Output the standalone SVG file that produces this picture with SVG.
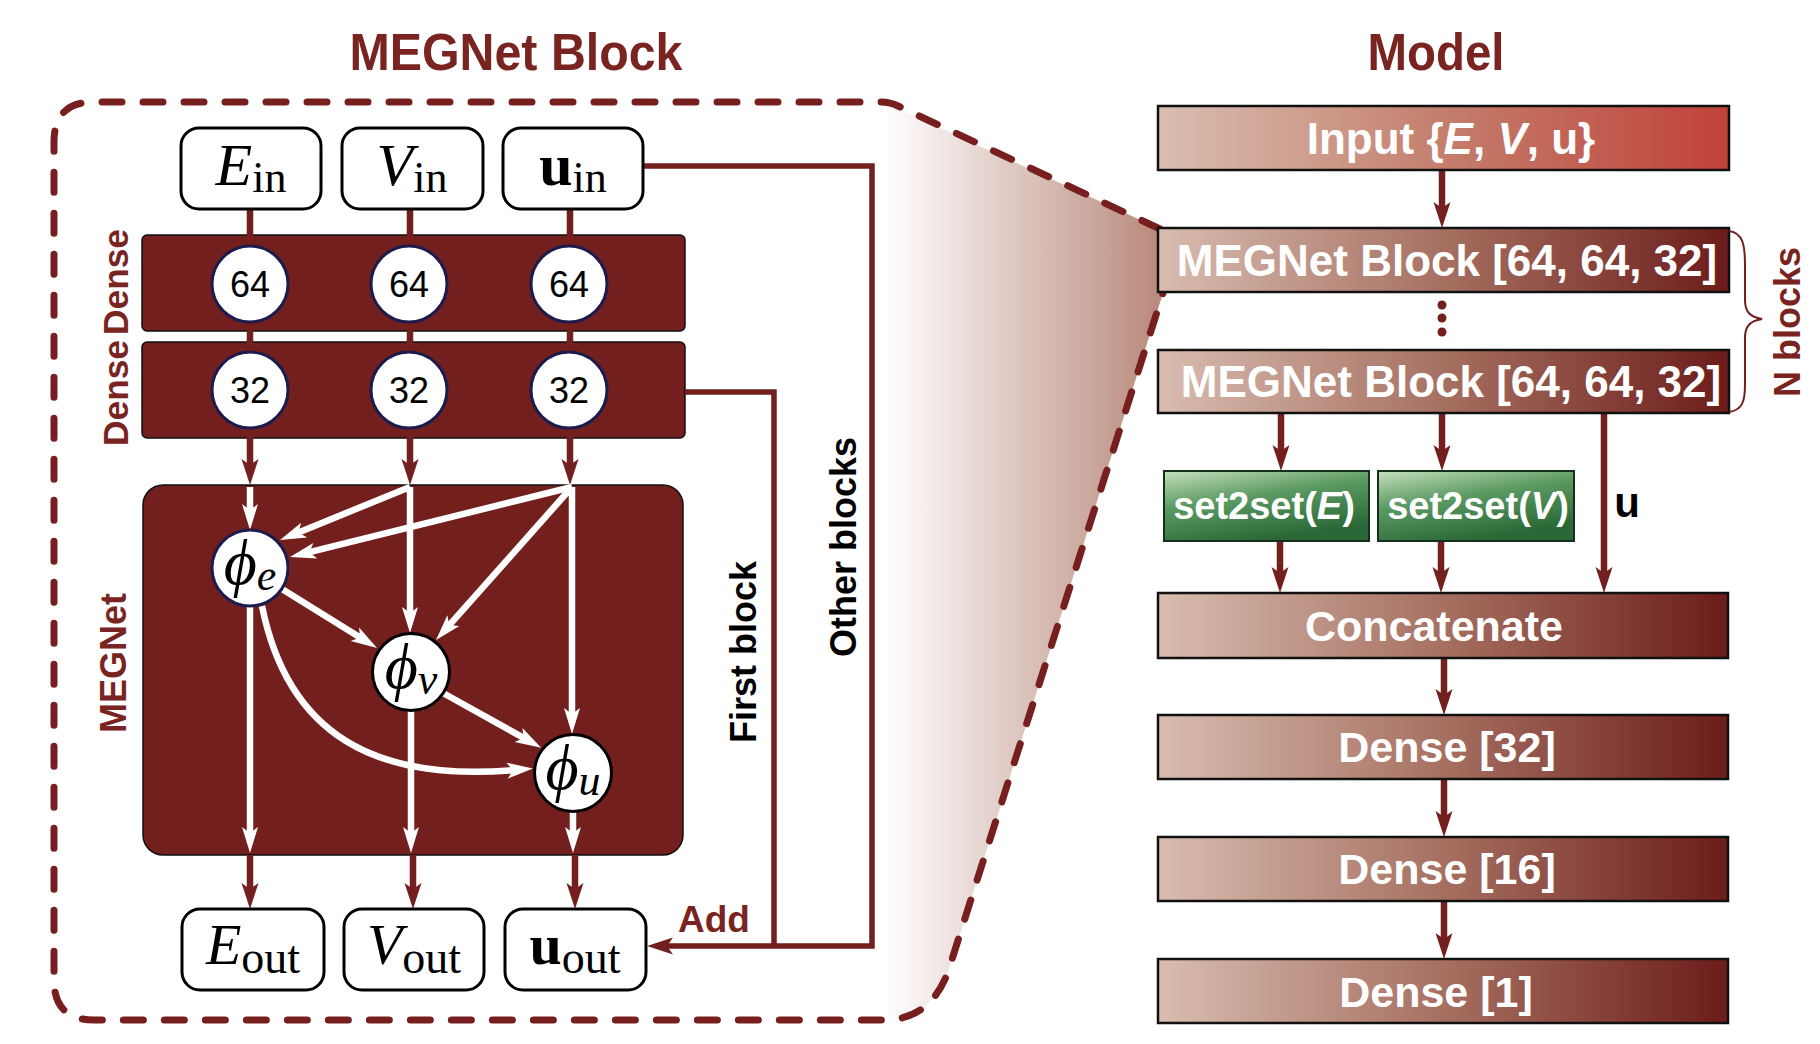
<svg xmlns="http://www.w3.org/2000/svg" width="1820" height="1044" viewBox="0 0 1820 1044">
<defs>
<style>
.title{font-family:"Liberation Sans",Arial,sans-serif;font-weight:bold;fill:#7a2421;font-size:52px;text-anchor:middle}
.side{font-family:"Liberation Sans",Arial,sans-serif;font-weight:bold;fill:#7a2421;font-size:35px;text-anchor:middle}
.blk{font-family:"Liberation Sans",Arial,sans-serif;font-weight:bold;fill:#000;font-size:36px;text-anchor:middle}
.num{font-family:"Liberation Sans",Arial,sans-serif;font-size:36px;fill:#000;text-anchor:middle}
.math{font-family:"Liberation Serif","DejaVu Serif",serif;fill:#000;text-anchor:middle}
.mt{font-family:"Liberation Sans",Arial,sans-serif;font-weight:bold;fill:#fff;text-anchor:middle}
.iobox{fill:#fff;stroke:#000;stroke-width:3}
.dark{fill:#721f1e;stroke:#111;stroke-width:1.5}
.cn{fill:#fff;stroke:#1c1b4e;stroke-width:3}
.cphi{fill:#fff;stroke:#000;stroke-width:3}
.mline{fill:none;stroke:#721f1e;stroke-width:6.5}
.rline{fill:none;stroke:#721f1e;stroke-width:5.5}
.wline{fill:none;stroke:#fff;stroke-width:6.5}
.mbox{stroke:#111;stroke-width:2.5}
.dash{fill:none;stroke:#761f1e;stroke-width:7;stroke-dasharray:20 21;stroke-linecap:round}
</style>
<marker id="am" markerUnits="userSpaceOnUse" markerWidth="28" markerHeight="20" viewBox="0 -10 28 20" refX="8" refY="0" orient="auto" overflow="visible">
<path d="M0,-8.5 L26,0 L0,8.5 L6,0 Z" fill="#721f1e"/>
</marker>
<marker id="aw" markerUnits="userSpaceOnUse" markerWidth="28" markerHeight="20" viewBox="0 -10 28 20" refX="8" refY="0" orient="auto" overflow="visible">
<path d="M0,-8 L26,0 L0,8 L6,0 Z" fill="#fff"/>
</marker>
<linearGradient id="gFunnel" gradientUnits="userSpaceOnUse" x1="885" y1="0" x2="1162" y2="0">
<stop offset="0" stop-color="#ffffff"/>
<stop offset="1" stop-color="#b8897a"/>
</linearGradient>
<linearGradient id="gBox" x1="0" y1="0" x2="1" y2="0">
<stop offset="0" stop-color="#d8bdb0"/>
<stop offset="0.5" stop-color="#a67061"/>
<stop offset="1" stop-color="#6c1c1a"/>
</linearGradient>
<linearGradient id="gIn" x1="0" y1="0" x2="1" y2="0">
<stop offset="0" stop-color="#d9bfb2"/>
<stop offset="0.5" stop-color="#c47e6c"/>
<stop offset="1" stop-color="#c0413a"/>
</linearGradient>
<linearGradient id="gGreen" x1="0" y1="0" x2="0.45" y2="1">
<stop offset="0" stop-color="#c6e0bd"/>
<stop offset="0.45" stop-color="#5d9b64"/>
<stop offset="1" stop-color="#2a6937"/>
</linearGradient>
</defs>

<rect width="1820" height="1044" fill="#fff"/>

<g id="titles">
<text class="title" x="516" y="70" textLength="333" lengthAdjust="spacingAndGlyphs">MEGNet Block</text>
<text class="title" x="1436" y="70" textLength="137" lengthAdjust="spacingAndGlyphs">Model</text>
</g>

<g id="zoom-frame">
<path d="M884,102 L1160,229 L1163,293 L948,972 Q930,1020 884,1020 Z" fill="url(#gFunnel)"/>
<path class="dash" d="M1160,229 L898,106 Q890,102 880,102 L94,102 Q54,102 54,142 L54,980 Q54,1020 94,1020 L884,1020 Q930,1020 948,972 L1163,293"/>
</g>

<g id="dense1">
<rect class="dark" x="142" y="235" width="543" height="96" rx="5"/>
<text class="side" transform="translate(128,282) rotate(-90)" textLength="106" lengthAdjust="spacingAndGlyphs">Dense</text>
</g>
<g id="dense2">
<rect class="dark" x="142" y="342" width="543" height="96" rx="5"/>
<text class="side" transform="translate(128,393) rotate(-90)" textLength="106" lengthAdjust="spacingAndGlyphs">Dense</text>
</g>
<g id="megnet">
<rect class="dark" x="143" y="485" width="540" height="370" rx="20"/>
<text class="side" style="font-size:36px" transform="translate(126,663) rotate(-90)">MEGNet</text>
</g>

<g id="connectors">
<path class="mline" d="M250,209 V467" marker-end="url(#am)"/>
<path class="mline" d="M410,209 V467" marker-end="url(#am)"/>
<path class="mline" d="M570,209 V467" marker-end="url(#am)"/>
<path class="wline" d="M250,487 V512" marker-end="url(#aw)"/>
<path class="wline" d="M410,487 L296.7,533.2" marker-end="url(#aw)"/>
<path class="wline" d="M572,487 L307.5,552.7" marker-end="url(#aw)"/>
<path class="wline" d="M410,487 V615" marker-end="url(#aw)"/>
<path class="wline" d="M572,487 L448,626.6" marker-end="url(#aw)"/>
<path class="wline" d="M572,487 V716" marker-end="url(#aw)"/>
<path class="wline" d="M282,589 L361.7,638.5" marker-end="url(#aw)"/>
<path class="wline" d="M443,693 L525.5,738.9" marker-end="url(#aw)"/>
<path class="wline" d="M262,606 C288,735 375,782 515,770" marker-end="url(#aw)"/>
<path class="wline" d="M250,606 V835" marker-end="url(#aw)"/>
<path class="wline" d="M411,711 V835" marker-end="url(#aw)"/>
<path class="wline" d="M573,812 V835" marker-end="url(#aw)"/>
<path class="mline" d="M250,855 V891" marker-end="url(#am)"/>
<path class="mline" d="M413,855 V891" marker-end="url(#am)"/>
<path class="mline" d="M575,855 V891" marker-end="url(#am)"/>
<path class="rline" d="M643,166 H872 V946 H665" marker-end="url(#am)"/>
<path class="rline" d="M685,392 H774 V946"/>
<path class="mline" d="M1442,170 V210" marker-end="url(#am)"/>
<path class="mline" d="M1281,413 V453" marker-end="url(#am)"/>
<path class="mline" d="M1442,413 V453" marker-end="url(#am)"/>
<path class="mline" d="M1604,413 V575" marker-end="url(#am)"/>
<path class="mline" d="M1280,541 V575" marker-end="url(#am)"/>
<path class="mline" d="M1441,541 V575" marker-end="url(#am)"/>
<path class="mline" d="M1444,658 V697" marker-end="url(#am)"/>
<path class="mline" d="M1444,779 V819" marker-end="url(#am)"/>
<path class="mline" d="M1444,901 V941" marker-end="url(#am)"/>
</g>

<g id="labels">
<text class="blk" transform="translate(756,652) rotate(-90)">First block</text>
<text class="blk" transform="translate(856,547) rotate(-90)">Other blocks</text>
<text x="714" y="932" style="font-family:'Liberation Sans',Arial,sans-serif;font-weight:bold;font-size:37px;fill:#7a2421;text-anchor:middle">Add</text>
<text x="1627" y="517" style="font-family:'Liberation Sans',Arial,sans-serif;font-weight:bold;font-size:42px;fill:#000;text-anchor:middle">u</text>
</g>

<g id="E_in"><rect class="iobox" x="181" y="128" width="140" height="81" rx="18"/>
<text class="math" x="251" y="185"><tspan font-style="italic" font-size="60">E</tspan><tspan font-size="44" dy="7">in</tspan></text></g>
<g id="V_in"><rect class="iobox" x="342" y="128" width="141" height="81" rx="18"/>
<text class="math" x="412" y="185"><tspan font-style="italic" font-size="60">V</tspan><tspan font-size="44" dy="7">in</tspan></text></g>
<g id="u_in"><rect class="iobox" x="503" y="128" width="140" height="81" rx="18"/>
<text class="math" x="573" y="185"><tspan font-weight="bold" font-size="60">u</tspan><tspan font-size="44" dy="7">in</tspan></text></g>

<g id="d64e"><circle class="cn" cx="250" cy="284" r="38"/><text class="num" x="250" y="297">64</text></g>
<g id="d64v"><circle class="cn" cx="409" cy="284" r="38"/><text class="num" x="409" y="297">64</text></g>
<g id="d64u"><circle class="cn" cx="569" cy="284" r="38"/><text class="num" x="569" y="297">64</text></g>
<g id="d32e"><circle class="cn" cx="250" cy="390" r="38"/><text class="num" x="250" y="403">32</text></g>
<g id="d32v"><circle class="cn" cx="409" cy="390" r="38"/><text class="num" x="409" y="403">32</text></g>
<g id="d32u"><circle class="cn" cx="569" cy="390" r="38"/><text class="num" x="569" y="403">32</text></g>

<g id="phi_e"><circle class="cn" cx="250" cy="568" r="38"/>
<text class="math" x="250" y="584" font-style="italic"><tspan font-size="64">ϕ</tspan><tspan font-size="44" dy="6">e</tspan></text></g>
<g id="phi_v"><circle class="cphi" cx="411" cy="672" r="38.5"/>
<text class="math" x="411" y="688" font-style="italic"><tspan font-size="64">ϕ</tspan><tspan font-size="44" dy="6">v</tspan></text></g>
<g id="phi_u"><circle class="cphi" cx="573" cy="773" r="38.5"/>
<text class="math" x="573" y="789" font-style="italic"><tspan font-size="64">ϕ</tspan><tspan font-size="44" dy="6">u</tspan></text></g>

<g id="E_out"><rect class="iobox" x="182" y="909" width="142" height="81" rx="18"/>
<text class="math" x="253" y="964"><tspan font-style="italic" font-size="58">E</tspan><tspan font-size="46" dy="9">out</tspan></text></g>
<g id="V_out"><rect class="iobox" x="344" y="909" width="140" height="81" rx="18"/>
<text class="math" x="414" y="964"><tspan font-style="italic" font-size="58">V</tspan><tspan font-size="46" dy="9">out</tspan></text></g>
<g id="u_out"><rect class="iobox" x="505" y="909" width="141" height="81" rx="18"/>
<text class="math" x="575" y="964"><tspan font-weight="bold" font-size="58">u</tspan><tspan font-size="46" dy="9">out</tspan></text></g>

<g id="input"><rect class="mbox" x="1158" y="106" width="571" height="64" fill="url(#gIn)"/>
<text class="mt" x="1451" y="154" font-size="44">Input {<tspan font-style="italic">E</tspan>, <tspan font-style="italic">V</tspan>, u}</text></g>
<g id="block1"><rect class="mbox" x="1158" y="228" width="571" height="64" fill="url(#gBox)"/>
<text class="mt" x="1447" y="276" font-size="44">MEGNet Block [64, 64, 32]</text></g>
<g id="dots" fill="#721f1e"><circle cx="1442" cy="305" r="4.5"/><circle cx="1442" cy="318" r="4.5"/><circle cx="1442" cy="332" r="4.5"/></g>
<g id="block2"><rect class="mbox" x="1158" y="350" width="571" height="63" fill="url(#gBox)"/>
<text class="mt" x="1451" y="397" font-size="44">MEGNet Block [64, 64, 32]</text></g>
<g id="brace">
<path d="M1729,231 C1743,233 1745,245 1745,265 L1745,300 C1745,312 1750,317 1762,319 C1750,321 1745,326 1745,338 L1745,385 C1745,402 1742,410 1729,412" fill="none" stroke="#721f1e" stroke-width="2"/>
<text class="side" style="font-size:36px" transform="translate(1800,322) rotate(-90)">N blocks</text>
</g>
<g id="set2setE"><rect x="1164" y="471" width="205" height="70" fill="url(#gGreen)" stroke="#14301a" stroke-width="2"/>
<text class="mt" x="1264" y="519" font-size="38">set2set(<tspan font-style="italic">E</tspan>)</text></g>
<g id="set2setV"><rect x="1378" y="471" width="196" height="70" fill="url(#gGreen)" stroke="#14301a" stroke-width="2"/>
<text class="mt" x="1478" y="519" font-size="38">set2set(<tspan font-style="italic">V</tspan>)</text></g>
<g id="concat"><rect class="mbox" x="1158" y="593" width="570" height="65" fill="url(#gBox)"/>
<text class="mt" x="1434" y="641" font-size="43">Concatenate</text></g>
<g id="dense32"><rect class="mbox" x="1158" y="715" width="570" height="64" fill="url(#gBox)"/>
<text class="mt" x="1447" y="762" font-size="43">Dense [32]</text></g>
<g id="dense16"><rect class="mbox" x="1158" y="837" width="570" height="64" fill="url(#gBox)"/>
<text class="mt" x="1447" y="884" font-size="43">Dense [16]</text></g>
<g id="dense1out"><rect class="mbox" x="1158" y="959" width="570" height="64" fill="url(#gBox)"/>
<text class="mt" x="1436" y="1007" font-size="43">Dense [1]</text></g>
</svg>
